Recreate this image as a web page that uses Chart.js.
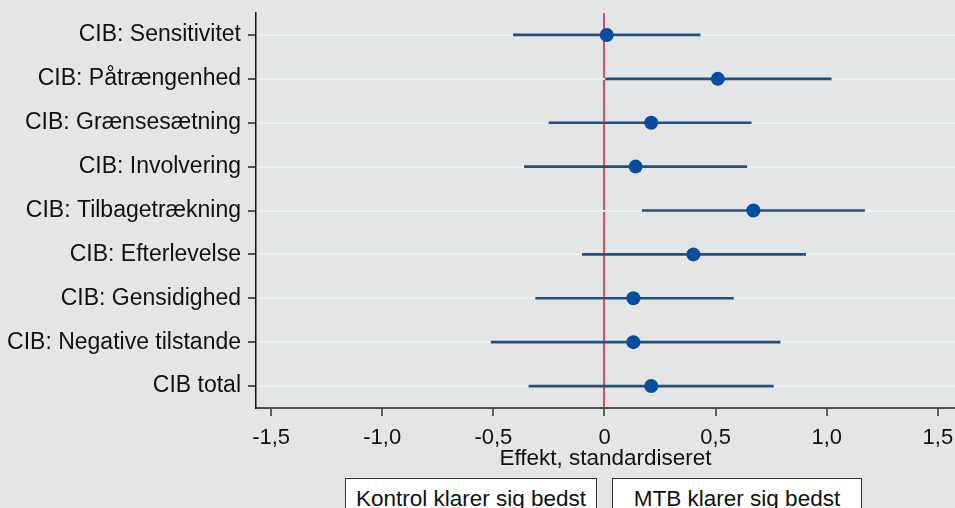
<!DOCTYPE html>
<html>
<head>
<meta charset="utf-8">
<script src="https://cdn.jsdelivr.net/npm/chart.js@4.4.1/dist/chart.umd.min.js"></script>
<style>
  html, body { margin: 0; padding: 0; background: #e4e5e7; overflow: hidden; }
  #wrap { position: relative; width: 955px; height: 508px; }
  canvas { position: absolute; left: 0; top: 0; }
  .boks {
    position: absolute; top: 478px; height: 44px; box-sizing: border-box;
    background: #fff; border: 1.5px solid #333;
    font-family: "Liberation Sans", Arial, sans-serif; font-size: 22.5px; color: #111;
    text-align: center; line-height: 40px;
  }
</style>
</head>
<body>
<div id="wrap">
  <canvas id="graf" width="955" height="508"></canvas>
  <div class="boks" style="left:345px;width:252px;">Kontrol klarer sig bedst</div>
  <div class="boks" style="left:612px;width:250px;">MTB klarer sig bedst</div>
</div>
<script>
// data
const kategorier = [
  "CIB: Sensitivitet",
  "CIB: Påtrængenhed",
  "CIB: Grænsesætning",
  "CIB: Involvering",
  "CIB: Tilbagetrækning",
  "CIB: Efterlevelse",
  "CIB: Gensidighed",
  "CIB: Negative tilstande",
  "CIB total"
];
const estimat = [0.01, 0.51, 0.21, 0.14, 0.67, 0.40, 0.13, 0.13, 0.21];
const nedre   = [-0.41, 0.00, -0.25, -0.36, 0.17, -0.10, -0.31, -0.51, -0.34];
const oevre   = [0.43, 1.02, 0.66, 0.64, 1.17, 0.905, 0.58, 0.79, 0.76];
const xTicks  = [-1.5, -1, -0.5, 0, 0.5, 1, 1.5];

const FONT = "'Liberation Sans', Arial, sans-serif";

function komma(v){
  if (v === 0) return "0";
  return v.toFixed(1).replace(".", ",");
}

new Chart(
  document.getElementById("graf"),
  {
    type: "bar",
    data: {
      labels: kategorier,
      datasets: [
        {
          // konfidensintervaller
          data: nedre.map((l, i) => [l, oevre[i]]),
          backgroundColor: "#26507c",
          barThickness: 2,
          order: 2
        },
        {
          type: "line",
          indexAxis: "y",
          data: estimat.map((v, i) => ({ x: v, y: kategorier[i] })),
          showLine: false,
          pointRadius: 7,
          pointBackgroundColor: "#0a4d9c",
          pointBorderWidth: 0,
          order: 1
        }
      ]
    },
    options: {
      indexAxis: "y",
      responsive: false,
      animation: false,
      layout: { autoPadding: false, padding: { top: 13, left: 0, right: 0, bottom: 0 } },
      plugins: { legend: { display: false }, tooltip: { enabled: false } },
      scales: {
        x: {
          type: "linear",
          min: -1.568,
          max: 1.577,
          afterBuildTicks: s => { s.ticks = xTicks.map(v => ({ value: v })); },
          afterFit: s => { s.height = 100; s.paddingLeft = 0; s.paddingRight = 0; },
          border: { color: "#4d4d4d", width: 2 },
          grid: {
            color: c => (c.tick && c.tick.value === 0) ? "#d8505d" : "rgba(0,0,0,0)",
            lineWidth: 2,
            tickColor: "#333",
            tickWidth: 1.5,
            tickLength: 8
          },
          ticks: {
            color: "#111",
            font: { family: FONT, size: 22 },
            padding: 9,
            maxRotation: 0,
            callback: v => komma(v)
          },
          title: {
            display: true,
            text: "Effekt, standardiseret",
            color: "#111",
            font: { family: FONT, size: 22.5 },
            padding: { top: 0, bottom: 36 }
          }
        },
        y: {
          type: "category",
          offset: true,
          afterFit: s => { s.width = 256; s.paddingTop = 0; s.paddingBottom = 0; },
          border: { color: "#111", width: 1.5 },
          grid: {
            offset: false,
            color: "#ebf0f0",
            lineWidth: 2,
            tickColor: "#222",
            tickWidth: 1.5,
            tickLength: 8
          },
          ticks: {
            color: "#111",
            font: { family: FONT, size: 23 },
            padding: 7
          }
        }
      }
    }
  }
);
</script>
</body>
</html>
